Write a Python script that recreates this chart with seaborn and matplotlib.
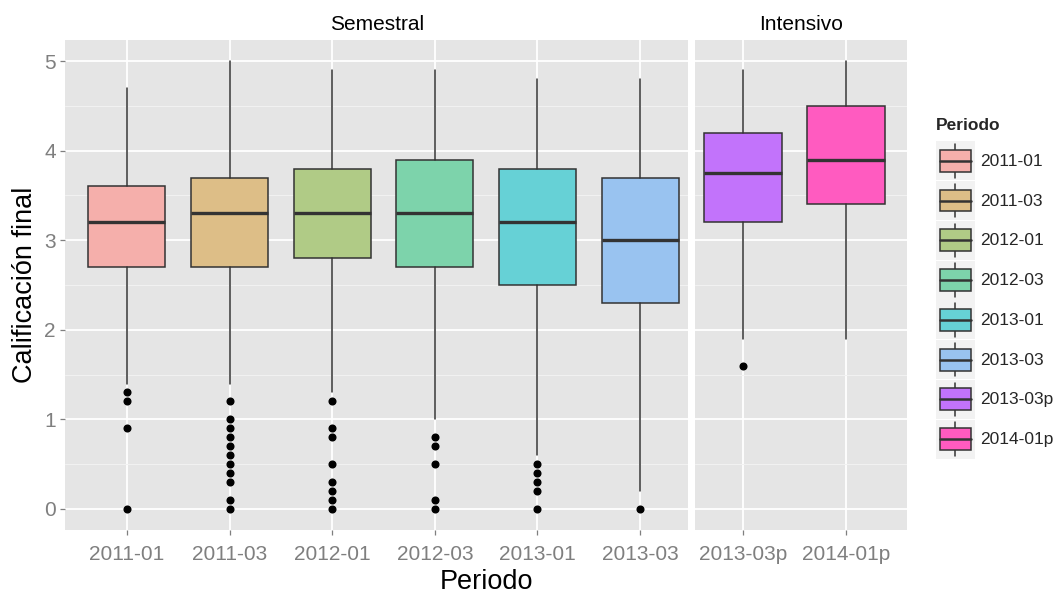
import matplotlib
matplotlib.use("Agg")
import matplotlib.pyplot as plt
import seaborn as sns
from matplotlib.patches import Rectangle, Patch
from matplotlib.lines import Line2D
from matplotlib.legend_handler import HandlerBase
from matplotlib.ticker import MultipleLocator

# Grade distribution per period (box-plot summary statistics)
periods = ["2011-01", "2011-03", "2012-01", "2012-03", "2013-01", "2013-03",
           "2013-03p", "2014-01p"]
course_type = ["Semestral"] * 6 + ["Intensivo"] * 2
q1 = [2.7, 2.7, 2.8, 2.7, 2.5, 2.3, 3.2, 3.4]
median = [3.2, 3.3, 3.3, 3.3, 3.2, 3.0, 3.75, 3.9]
q3 = [3.6, 3.7, 3.8, 3.9, 3.8, 3.7, 4.2, 4.5]
whisker_low = [1.4, 1.4, 1.3, 1.0, 0.6, 0.2, 1.9, 1.9]
whisker_high = [4.7, 5.0, 4.9, 4.9, 4.8, 4.8, 4.9, 5.0]
outliers = [
    [1.3, 1.2, 0.9, 0.0],
    [1.2, 1.0, 0.9, 0.8, 0.7, 0.6, 0.5, 0.4, 0.3, 0.1, 0.0],
    [1.2, 0.9, 0.8, 0.5, 0.3, 0.2, 0.1, 0.0],
    [0.8, 0.7, 0.5, 0.1, 0.0],
    [0.5, 0.4, 0.3, 0.2, 0.0],
    [0.0],
    [1.6],
    [],
]
facets = ["Semestral", "Intensivo"]
fill_colors = ["#F5AFAB", "#DDBE87", "#B0CB86", "#7DD3AB", "#66D1D6",
               "#99C3F0", "#C273FB", "#FF5BC0"]

sns.set_theme(style="darkgrid", rc={
    "axes.facecolor": "#E5E5E5",
    "grid.color": "white",
    "axes.edgecolor": "none",
})
plt.rcParams["font.family"] = ["Liberation Sans", "DejaVu Sans"]

W, H = 1060, 594
fig = plt.figure(figsize=(W / 100, H / 100), dpi=100)
fig.patch.set_facecolor("white")

panel_top, panel_bottom = 40, 530
panels = {
    "Semestral": (65, 688.3, (-0.604, 5.47)),
    "Intensivo": (695, 906.7, (-0.466, 1.589)),
}

EDGE = "#333333"
TICK_GRAY = "#7F7F7F"
LW = 1.1

axes = []
for fi, facet in enumerate(facets):
    x0, x1, xlim = panels[facet]
    ax = fig.add_axes([x0 / W, 1 - panel_bottom / H, (x1 - x0) / W,
                       (panel_bottom - panel_top) / H])
    idx = [i for i, t in enumerate(course_type) if t == facet]
    stats = []
    for i in idx:
        stats.append(dict(label=periods[i], med=median[i], q1=q1[i], q3=q3[i],
                          whislo=whisker_low[i], whishi=whisker_high[i],
                          fliers=outliers[i]))
    pos = list(range(len(idx)))
    bp = ax.bxp(stats, positions=pos, widths=0.75, patch_artist=True,
                showcaps=False, manage_ticks=False,
                boxprops=dict(edgecolor=EDGE, linewidth=LW),
                whiskerprops=dict(color=EDGE, linewidth=LW),
                medianprops=dict(color=EDGE, linewidth=2.4, solid_capstyle="butt"),
                flierprops=dict(marker="o", markerfacecolor="black",
                                markeredgecolor="black", markersize=4.8))
    for patch, i in zip(bp["boxes"], idx):
        patch.set_facecolor(fill_colors[i])
        patch.set_zorder(2)
    for m in bp["medians"]:
        m.set_zorder(3)

    ax.set_xlim(*xlim)
    ax.set_ylim(-0.235, 5.235)
    ax.set_xticks(pos)
    ax.set_xticklabels([periods[i] for i in idx])
    ax.yaxis.set_major_locator(MultipleLocator(1))
    ax.yaxis.set_minor_locator(MultipleLocator(0.5))
    ax.grid(which="major", color="white", linewidth=1.3)
    ax.grid(which="minor", axis="y", color="#F2F2F2", linewidth=0.7)
    ax.set_axisbelow(True)
    for s in ax.spines.values():
        s.set_visible(False)
    ax.tick_params(axis="x", which="major", length=3.5, width=0.9,
                   color=TICK_GRAY, labelcolor=TICK_GRAY, labelsize=15, pad=7,
                   bottom=True)
    ax.tick_params(axis="y", which="both", left=False)
    ax.set_yticks(range(0, 6))
    if fi == 0:
        ax.tick_params(axis="y", which="major", length=3.5, width=0.9,
                       color=TICK_GRAY, labelcolor=TICK_GRAY, labelsize=15,
                       pad=3, left=True)
        ax.set_yticklabels([str(v) for v in range(0, 6)])
    else:
        ax.set_yticklabels([])
    ax.set_xlabel("")
    ax.set_ylabel("")
    fig.text(((x0 + x1) / 2) / W, 1 - 25 / H, facet, ha="center", va="center",
             fontsize=15, color="black")
    axes.append(ax)

fig.text(486 / W, 1 - 589 / H, "Periodo", ha="center", va="baseline",
         fontsize=19.5, color="black")
fig.text(25 / W, 1 - 285 / H, "Calificación final", ha="center",
         va="center", rotation=90, fontsize=19.5, color="black")


class BoxKeyHandler(HandlerBase):
    def create_artists(self, legend, orig_handle, xdescent, ydescent, width,
                       height, fontsize, trans):
        x0, y0 = -xdescent, -ydescent
        bg = Rectangle((x0, y0), width, height, facecolor="#F2F2F2",
                       edgecolor="none", transform=trans)
        bw, bh = width * 0.8, height * 0.56
        bx, by = x0 + (width - bw) / 2, y0 + (height - bh) / 2
        cx = x0 + width / 2
        w1 = Line2D([cx, cx], [y0 + 0.07 * height, by], color=EDGE,
                    linewidth=LW, transform=trans)
        w2 = Line2D([cx, cx], [by + bh, y0 + 0.93 * height], color=EDGE,
                    linewidth=LW, transform=trans)
        box = Rectangle((bx, by), bw, bh, facecolor=orig_handle.get_facecolor(),
                        edgecolor=EDGE, linewidth=LW, transform=trans)
        med = Line2D([bx, bx + bw], [y0 + height / 2] * 2, color=EDGE,
                     linewidth=1.8, transform=trans)
        return [bg, w1, w2, box, med]


handles = [Patch(facecolor=c) for c in fill_colors]
leg = fig.legend(handles, periods, title="Periodo", loc="upper left",
                 bbox_to_anchor=(936 / W, 1 - 118 / H), frameon=False,
                 fontsize=12.5, title_fontproperties={"weight": "bold", "size": 12.5},
                 handlelength=2.24, handleheight=3.07, labelspacing=0.05,
                 handletextpad=0.3, borderpad=0, borderaxespad=0,
                 alignment="left", handler_map={Patch: BoxKeyHandler()})
# a little more room between the legend title and its entries
leg._legend_box.sep = 6

fig.savefig("out.png", dpi=100, facecolor="white")
